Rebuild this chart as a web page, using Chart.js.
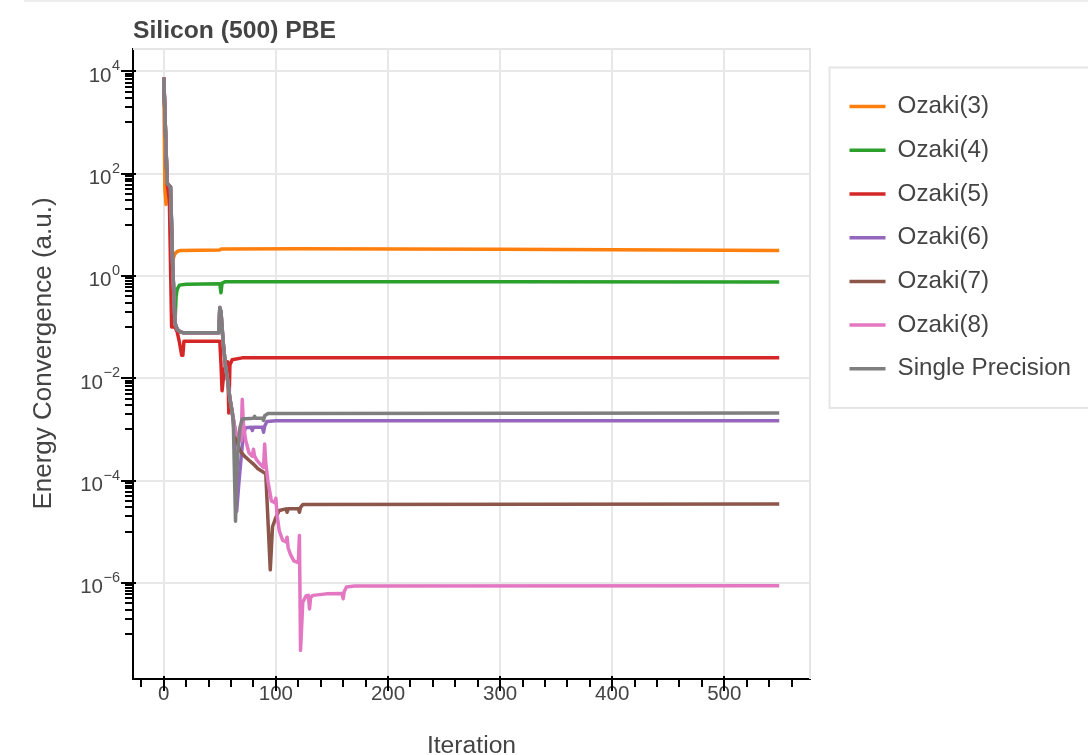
<!DOCTYPE html>
<html>
<head>
<meta charset="utf-8">
<title>Silicon (500) PBE</title>
<script src="https://cdn.jsdelivr.net/npm/chart.js@4.4.1/dist/chart.umd.min.js"></script>
<style>
  html, body { margin: 0; padding: 0; background: #fff; overflow: hidden; }
  #wrap { position: relative; width: 1088px; height: 755px; }
  #rule { position: absolute; left: 24px; top: 0; width: 1064px; border-top: 2px solid #ececec; }
  canvas { display: block; }
</style>
</head>
<body>
<div id="wrap">
  <div id="rule"></div>
  <canvas id="chart" width="1088" height="755"></canvas>
</div>
<script>
// Energy convergence per SCF iteration, [iteration, energy difference (a.u.)]
const ozaki3 = [[0,7500],[1,50],[2,25],[3,60],[5,40],[7,2.2],[8,2.0],[9,2.4],[10,2.7],[12,3.0],[15,3.15],[50,3.2],[51,3.35],[120,3.4],[300,3.3],[549,3.15]];
const ozaki4 = [[0,7500],[3,65],[6,50],[8,1.5],[10,0.12],[11,0.4],[12,0.55],[14,0.66],[20,0.69],[50,0.7],[51,0.47],[52,0.72],[55,0.77],[300,0.77],[549,0.76]];
const ozaki5 = [[0,7500],[3,65],[5,30],[7,0.1],[10,0.1],[12,0.08],[14,0.05],[16,0.028],[17,0.028],[18,0.053],[50,0.053],[51,0.02],[52,0.0057],[54,0.015],[57,0.021],[58,0.0021],[59,0.018],[61,0.023],[70,0.025],[549,0.025]];
const ozaki6 = [[0,7500],[3,65],[6,55],[8,1.5],[10,0.12],[12,0.09],[15,0.08],[18,0.077],[49,0.077],[50,0.24],[51,0.2],[53,0.05],[55,0.018],[57,0.009],[59,0.004],[61,0.0022],[63,8e-4],[65,2.5e-5],[67,9e-5],[69,2.8e-4],[71,8e-4],[73,1.08e-3],[78,1.1e-3],[79,9.5e-4],[80,1.1e-3],[88,1.1e-3],[89,8.8e-4],[90,1.15e-3],[92,1.42e-3],[100,1.47e-3],[549,1.47e-3]];
const ozaki7 = [[0,7500],[3,65],[6,55],[8,1.5],[10,0.12],[12,0.09],[15,0.08],[18,0.077],[49,0.077],[50,0.24],[51,0.2],[53,0.05],[55,0.018],[57,0.009],[59,0.004],[61,0.0022],[63,1.2e-3],[65,6e-4],[68,3.8e-4],[72,3e-4],[76,2.5e-4],[80,2.1e-4],[84,1.7e-4],[89,1.45e-4],[91,1.35e-4],[95,1.8e-6],[97,1.25e-5],[100,1.9e-5],[103,2.6e-5],[109,2.8e-5],[110,2.4e-5],[111,2.8e-5],[120,2.8e-5],[121,2.4e-5],[122,3.0e-5],[124,3.4e-5],[549,3.5e-5]];
const ozaki8 = [[0,7500],[3,65],[6,55],[8,1.5],[10,0.12],[12,0.09],[15,0.08],[18,0.077],[49,0.077],[50,0.24],[51,0.2],[53,0.05],[55,0.018],[57,0.009],[59,0.004],[61,0.0022],[63,1.2e-3],[65,8e-4],[68,6.5e-4],[69,6e-4],[70,3.9e-3],[71,1.3e-3],[73,6.2e-4],[76,3.5e-4],[79,3.0e-4],[80,4.1e-4],[81,3.0e-4],[83,2.5e-4],[86,2.1e-4],[89,1.8e-4],[90,5.2e-4],[91,2.2e-4],[93,9.5e-5],[96,4e-5],[99,3.7e-5],[100,4.5e-5],[101,2.2e-5],[103,1.05e-5],[106,6.8e-6],[109,6.3e-6],[110,7.8e-6],[111,4.8e-6],[113,3.6e-6],[116,2.7e-6],[120,2.5e-6],[121,8.4e-6],[122,4.8e-8],[124,4.3e-7],[125,4.6e-7],[127,5.6e-7],[129,5.7e-7],[130,3.1e-7],[131,5.2e-7],[133,5.7e-7],[145,6.1e-7],[159,6.2e-7],[160,4.9e-7],[161,6.8e-7],[163,8.3e-7],[170,8.7e-7],[549,8.8e-7]];
const singlePrecision = [[0,7500],[3,65],[6,55],[8,1.5],[10,0.12],[12,0.09],[15,0.08],[18,0.077],[49,0.077],[50,0.24],[51,0.2],[53,0.05],[55,0.018],[57,0.009],[59,0.004],[61,0.0022],[62,0.0015],[64,1.6e-5],[65,1e-4],[66,3.6e-4],[68,1.1e-3],[70,1.6e-3],[80,1.65e-3],[81,1.8e-3],[82,1.65e-3],[88,1.65e-3],[89,1.5e-3],[90,1.85e-3],[93,2.05e-3],[549,2.1e-3]];

const seriesLabels = ['Ozaki(3)', 'Ozaki(4)', 'Ozaki(5)', 'Ozaki(6)', 'Ozaki(7)', 'Ozaki(8)', 'Single Precision'];
const seriesData = [ozaki3, ozaki4, ozaki5, ozaki6, ozaki7, ozaki8, singlePrecision];
const seriesColors = ['#ff7f0e', '#2ca02c', '#d62728', '#9467bd', '#8c564b', '#e377c2', '#7f7f7f'];

// Axis tick labels and titles
const xMajorTicks = [0, 100, 200, 300, 400, 500];
const yMajorExponents = [-6, -4, -2, 0, 2, 4];
const xAxisTitle = 'Iteration';
const yAxisTitle = 'Energy Convergence (a.u.)';

const FONT = "'Liberation Sans', Helvetica, Arial, sans-serif";
const TEXT = '#444444';
const GRID = '#e8e8e8';

// Ranges padded by 5% on each side of the data (log space for y)
const allX = seriesData.flat().map(p => p[0]);
const allY = seriesData.flat().map(p => Math.log10(p[1]));
const xLo = Math.min(...allX), xHi = Math.max(...allX);
const yLo = Math.min(...allY), yHi = Math.max(...allY);
const xPad = 0.05 * (xHi - xLo), yPad = 0.05 * (yHi - yLo);
const xMin = xLo - xPad, xMax = xHi + xPad;
const yMin = Math.pow(10, yLo - yPad), yMax = Math.pow(10, yHi + yPad);

// Tick positions: majors every 100 with minors every 20; log majors every two decades
const xTickValues = [];
for (let v = -20; v <= 560; v += 20) if (v >= xMin && v <= xMax) xTickValues.push(v);

const yTickValues = [];
for (let e = yMajorExponents[0] - 2; e <= yMajorExponents[yMajorExponents.length - 1]; e += 2) {
  yTickValues.push(Math.pow(10, e));
  for (let k = 1; k <= 9; k++) yTickValues.push(k * Math.pow(10, e + 1));
}
const yTicksInRange = yTickValues.filter(v => v >= yMin && v <= yMax);

const majorExponent = v => {
  const e = Math.log10(v), r = Math.round(e);
  return (Math.abs(e - r) < 1e-6 && yMajorExponents.includes(r)) ? r : null;
};
const isXMajor = v => xMajorTicks.includes(v);

// Legend placement, legend frame, plot outline, axis tick marks, power-of-ten labels
const decorations = {
  id: 'decorations',
  afterLayout(chart) {
    const lg = chart.legend;
    const h = lg.bottom - lg.top;
    lg.left += 20;
    lg.right = chart.width + 10;
    lg.top = chart.chartArea.top + 26;
    lg.bottom = lg.top + h;
  },
  beforeDraw(chart) {
    const {ctx} = chart;
    const lg = chart.legend;
    const pad = lg.options.labels.padding;
    const size = lg.options.labels.font.size;
    const n = chart.data.datasets.length;
    const itemsTop = lg.top + pad;
    const itemsH = n * size + (n - 1) * pad;
    const x0 = lg.left + pad - 20, y0 = itemsTop - 27;
    ctx.save();
    ctx.fillStyle = '#ffffff';
    ctx.strokeStyle = '#e5e5e5';
    ctx.lineWidth = 2;
    ctx.fillRect(x0, y0, chart.width - x0 + 20, itemsH + 54);
    ctx.strokeRect(x0, y0, chart.width - x0 + 20, itemsH + 54);
    ctx.restore();
  },
  beforeDatasetsDraw(chart) {
    const {ctx, chartArea: a} = chart;
    ctx.save();
    ctx.strokeStyle = '#e5e5e5';
    ctx.lineWidth = 2;
    ctx.beginPath();
    ctx.moveTo(a.left, a.top);
    ctx.lineTo(a.right, a.top);
    ctx.lineTo(a.right, a.bottom);
    ctx.stroke();
    ctx.restore();
  },
  afterDraw(chart) {
    const {ctx, chartArea: a, scales: {x, y}} = chart;
    ctx.save();
    ctx.strokeStyle = '#000';
    ctx.lineWidth = 2;
    ctx.beginPath();
    for (const t of x.ticks) {
      const px = Math.round(x.getPixelForValue(t.value));
      const major = isXMajor(t.value);
      ctx.moveTo(px, a.bottom - (major ? 3 : 0));
      ctx.lineTo(px, a.bottom + (major ? 12 : 8));
    }
    for (const t of y.ticks) {
      const py = Math.round(y.getPixelForValue(t.value));
      const major = majorExponent(t.value) !== null;
      ctx.moveTo(a.left + (major ? 3 : 0), py);
      ctx.lineTo(a.left - (major ? 12 : 8), py);
    }
    ctx.stroke();

    // "10" with a raised exponent at each major log tick
    ctx.fillStyle = TEXT;
    ctx.textAlign = 'right';
    ctx.textBaseline = 'alphabetic';
    const right = a.left - 13;
    for (const t of y.ticks) {
      const e = majorExponent(t.value);
      if (e === null) continue;
      const py = y.getPixelForValue(t.value);
      const exp = String(e).replace('-', '\u2212');
      ctx.font = `14.5px ${FONT}`;
      const w = ctx.measureText(exp).width;
      ctx.fillText(exp, right, py - 1);
      ctx.font = `20.5px ${FONT}`;
      ctx.fillText('10', right - w - 0.5, py + 10.5);
    }

    // rotated y-axis title
    ctx.save();
    ctx.translate(43.5, 353.5);
    ctx.rotate(-Math.PI / 2);
    ctx.textAlign = 'center';
    ctx.textBaseline = 'middle';
    ctx.font = `26px ${FONT}`;
    ctx.fillText(yAxisTitle, 0, 0);
    ctx.restore();
    ctx.restore();
  }
};

Chart.defaults.font.family = FONT;
Chart.defaults.color = TEXT;

const datasets = seriesData.map((pts, i) => ({
  label: seriesLabels[i],
  data: pts.map(([it, v]) => ({x: it, y: v})),
  borderColor: seriesColors[i],
  backgroundColor: seriesColors[i],
  borderWidth: 3.5,
  borderJoinStyle: 'round',
  pointRadius: 0,
  pointHoverRadius: 0,
  tension: 0,
  fill: false,
  order: seriesData.length - i
}));

new Chart(document.getElementById('chart'), {
  type: 'line',
  data: {datasets},
  plugins: [decorations],
  options: {
    responsive: false,
    devicePixelRatio: 1,
    animation: false,
    events: [],
    layout: {padding: {left: 0, right: 48, top: 0, bottom: 0}},
    plugins: {
      tooltip: {enabled: false},
      title: {
        display: true,
        text: 'Silicon (500) PBE',
        align: 'start',
        fullSize: false,
        color: TEXT,
        font: {size: 24.7, weight: 'bold', lineHeight: 1.2},
        padding: {top: 16, bottom: 3.36}
      },
      legend: {
        display: true,
        position: 'right',
        align: 'start',
        maxWidth: 230,
        labels: {
          usePointStyle: true,
          pointStyle: 'line',
          pointStyleWidth: 36,
          boxWidth: 36,
          padding: 19.5,
          color: TEXT,
          font: {size: 24.2},
          sort: (a, b) => a.datasetIndex - b.datasetIndex
        }
      }
    },
    scales: {
      x: {
        type: 'linear',
        min: xMin,
        max: xMax,
        afterFit(s) { s.height = 76; },
        afterBuildTicks(s) { s.ticks = xTickValues.map(v => ({value: v})); },
        grid: {
          drawTicks: false,
          lineWidth: 2,
          color: c => (c.tick && isXMajor(c.tick.value)) ? GRID : 'rgba(0,0,0,0)'
        },
        border: {display: true, color: '#000', width: 2},
        ticks: {
          autoSkip: false,
          maxRotation: 0,
          padding: 3,
          color: TEXT,
          font: {size: 20.5},
          callback: v => isXMajor(v) ? String(v) : ''
        },
        title: {display: true, text: xAxisTitle, color: TEXT, font: {size: 24.7, lineHeight: 0.7}, padding: 0}
      },
      y: {
        type: 'logarithmic',
        min: yMin,
        max: yMax,
        afterFit(s) { s.width = 133; },
        afterBuildTicks(s) { s.ticks = yTicksInRange.map(v => ({value: v})); },
        grid: {
          drawTicks: false,
          lineWidth: 2,
          color: c => (c.tick && majorExponent(c.tick.value) !== null) ? GRID : 'rgba(0,0,0,0)'
        },
        border: {display: true, color: '#000', width: 2},
        ticks: {display: false, autoSkip: false},
        title: {display: false}
      }
    }
  }
});
</script>
</body>
</html>
